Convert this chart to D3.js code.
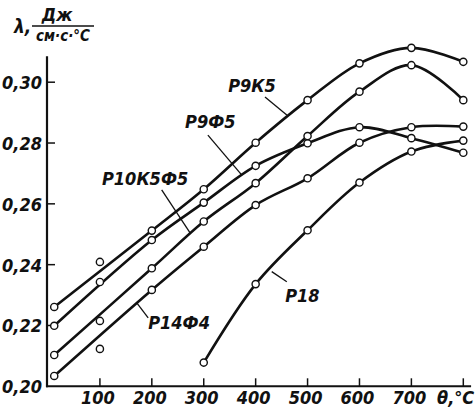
<!DOCTYPE html>
<html lang="ru">
<head>
<meta charset="utf-8">
<title>Теплопроводность быстрорежущих сталей</title>
<script src="https://d3js.org/d3.v7.min.js"></script>
<style>
  body { margin: 0; background: #fff; }
  text {
    font-family: "Liberation Sans Narrow", "DejaVu Sans Condensed", "Arial Narrow", sans-serif;
    font-style: italic;
    font-weight: bold;
    fill: #111;
  }
</style>
</head>
<body>
<script>
// temperatures, °C
var temps = [12, 100, 200, 300, 400, 500, 600, 700, 800];
var tempsP18 = [300, 400, 500, 600, 700, 800];

// lambda, J/(cm*s*°C)
var p9k5    = [0.2261, 0.2409, 0.2512, 0.2648, 0.2801, 0.2941, 0.3062, 0.3113, 0.3067];
var p9f5    = [0.2199, 0.2343, 0.2481, 0.2604, 0.2725, 0.2799, 0.2852, 0.2816, 0.2768];
var p10k5f5 = [0.2103, 0.2215, 0.2388, 0.2542, 0.2668, 0.2823, 0.2969, 0.3056, 0.2941];
var p14f4   = [0.2034, 0.2123, 0.2317, 0.2459, 0.2596, 0.2684, 0.2801, 0.2852, 0.2854];
var p18     = [0.2078, 0.2336, 0.2513, 0.2670, 0.2772, 0.2808];

var names = ["Р9К5", "Р9Ф5", "Р10К5Ф5", "Р14Ф4", "Р18"];
var xTicks = [100, 200, 300, 400, 500, 600, 700];
var yTicks = [0.20, 0.22, 0.24, 0.26, 0.28, 0.30];
// scattered points at 100 °C are not on the fitted curves
var lineSkip = [100];

var w = 475, h = 407;

var svg = d3.select("body").append("svg")
    .attr("width", w)
    .attr("height", h);

var x = d3.scaleLinear().domain([0, 800]).range([48, 463.3]);
var y = d3.scaleLinear().domain([0.20, 0.30]).range([386.3, 82.2]);

var series = [
  {name: names[0], t: temps, v: p9k5},
  {name: names[1], t: temps, v: p9f5},
  {name: names[2], t: temps, v: p10k5f5},
  {name: names[3], t: temps, v: p14f4},
  {name: names[4], t: tempsP18, v: p18}
].map(s => ({name: s.name, pts: s.t.map((t, i) => [t, s.v[i]])}));

// axes
svg.append("line")
    .attr("x1", x(0) - 1).attr("x2", x(0) - 1)
    .attr("y1", y(0.20) + 1).attr("y2", y(0.3085))
    .attr("stroke", "#111").attr("stroke-width", 2.2);
svg.append("line")
    .attr("x1", x(0) - 2).attr("x2", x(815))
    .attr("y1", y(0.20)).attr("y2", y(0.20))
    .attr("stroke", "#111").attr("stroke-width", 2);

svg.append("g").selectAll("line")
  .data(yTicks.slice(1))
  .join("line")
    .attr("x1", x(0)).attr("x2", x(0) + 7)
    .attr("y1", d => y(d)).attr("y2", d => y(d))
    .attr("stroke", "#111").attr("stroke-width", 1.5);

svg.append("g").selectAll("text")
  .data(yTicks)
  .join("text")
    .attr("x", 42)
    .attr("y", d => y(d) + 7)
    .attr("text-anchor", "end")
    .attr("font-size", 18)
    .text(d => d3.format(".2f")(d).replace(".", ","));

svg.append("g").selectAll("line")
  .data(xTicks.concat([800]))
  .join("line")
    .attr("x1", d => x(d)).attr("x2", d => x(d))
    .attr("y1", y(0.20)).attr("y2", y(0.20) - 8)
    .attr("stroke", "#111").attr("stroke-width", 1.5);

svg.append("g").selectAll("text")
  .data(xTicks)
  .join("text")
    .attr("x", d => x(d) - 2)
    .attr("y", 404)
    .attr("text-anchor", "middle")
    .attr("font-size", 18)
    .text(d => d);

svg.append("text")
    .attr("x", 437).attr("y", 404)
    .attr("font-size", 18)
    .text("θ,°C");

// y axis title as fraction
var ttl = svg.append("g");
ttl.append("text").attr("x", 14).attr("y", 33).attr("font-size", 19).text("λ,");
ttl.append("text").attr("x", 57).attr("y", 21).attr("text-anchor", "middle")
    .attr("font-size", 18).text("Дж");
ttl.append("line").attr("x1", 32).attr("x2", 94).attr("y1", 26).attr("y2", 26)
    .attr("stroke", "#111").attr("stroke-width", 1.3);
ttl.append("text").attr("x", 63).attr("y", 41).attr("text-anchor", "middle")
    .attr("font-size", 15).text("см·с·°C");

// curves
var line = d3.line()
    .x(d => x(d[0]))
    .y(d => y(d[1]))
    .curve(d3.curveCatmullRom.alpha(0.5));

svg.append("g").selectAll("path")
  .data(series)
  .join("path")
    .attr("d", s => line(s.pts.filter(p => lineSkip.indexOf(p[0]) < 0)))
    .attr("fill", "none")
    .attr("stroke", "#111")
    .attr("stroke-width", 2.6)
    .attr("stroke-linejoin", "round");

svg.append("g").selectAll("circle")
  .data(series.flatMap(s => s.pts))
  .join("circle")
    .attr("cx", d => x(d[0]))
    .attr("cy", d => y(d[1]))
    .attr("r", 3.6)
    .attr("fill", "#fff")
    .attr("stroke", "#111")
    .attr("stroke-width", 1.4);

// labels with leaders, given in data coordinates
var labels = [
  {text: names[0], at: [347, 0.2968], from: [418, 0.2951], to: [460, 0.2892]},
  {text: names[1], at: [264, 0.2849], from: [308, 0.2826], to: [373, 0.2695]},
  {text: names[2], at: [104, 0.2662], from: [219, 0.2646], to: [274, 0.2504]},
  {text: names[3], at: [193, 0.2189], from: [171, 0.2274], to: [193, 0.2225]},
  {text: names[4], at: [457, 0.2278], from: [431, 0.2377], to: [460, 0.2344]}
];

svg.append("g").selectAll("line")
  .data(labels)
  .join("line")
    .attr("x1", d => x(d.from[0])).attr("y1", d => y(d.from[1]))
    .attr("x2", d => x(d.to[0])).attr("y2", d => y(d.to[1]))
    .attr("stroke", "#111").attr("stroke-width", 1.3);

svg.append("g").selectAll("text")
  .data(labels)
  .join("text")
    .attr("x", d => x(d.at[0]))
    .attr("y", d => y(d.at[1]))
    .attr("font-size", 18)
    .text(d => d.text);
</script>
</body>
</html>
